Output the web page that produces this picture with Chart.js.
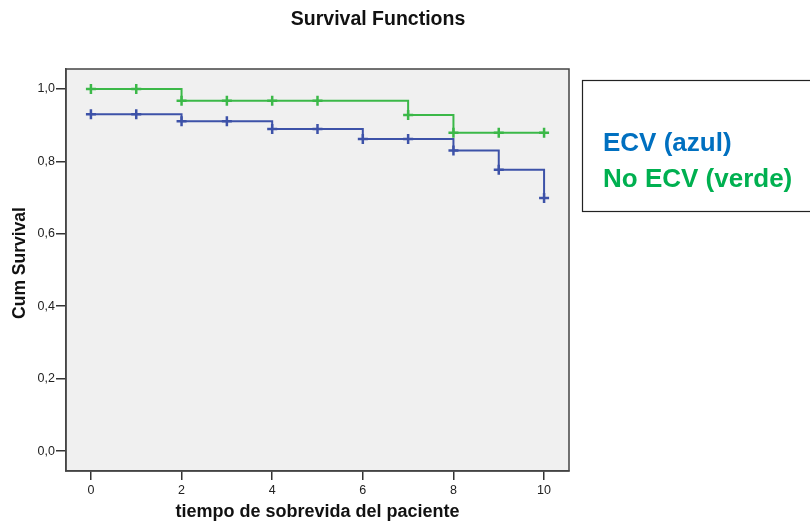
<!DOCTYPE html>
<html><head><meta charset="utf-8">
<script src="https://cdn.jsdelivr.net/npm/chart.js@4/dist/chart.umd.min.js"></script>
<style>html,body{margin:0;padding:0;background:#fff}#wrap{width:810px;height:523px}</style>
</head><body><div id="wrap"><canvas id="c" width="810" height="523"></canvas></div>
<script>
const times = [0, 1, 2, 3, 4, 5, 6, 7, 8, 9, 10];
const ecvSurvival = [0.930, 0.930, 0.911, 0.911, 0.889, 0.889, 0.862, 0.862, 0.830, 0.777, 0.699];
const noEcvSurvival = [1.0, 1.0, 0.967, 0.967, 0.967, 0.967, 0.967, 0.928, 0.879, 0.879, 0.879];
const ecvCensored = [1, 1, 1, 1, 1, 1, 1, 1, 1, 1, 1];
const noEcvCensored = [1, 1, 1, 1, 1, 1, 0, 1, 1, 1, 1];
const xTicks = [0, 2, 4, 6, 8, 10];
const yTicks = [0, 0.2, 0.4, 0.6, 0.8, 1.0];
const legendLabels = ['ECV (azul)', 'No ECV (verde)'];
const titleText = 'Survival Functions';
const xTitle = 'tiempo de sobrevida del paciente';
const yTitle = 'Cum Survival';

const FONT = 'Liberation Sans, Arial, sans-serif';
const blue = '#3D52A8';
const green = '#3BB848';

function pts(vals) { return times.map((t, i) => ({x: t, y: vals[i]})); }

const deco = {
  id: 'deco',
  beforeDraw(chart) {
    const {ctx, chartArea: a} = chart;
    ctx.save();
    ctx.fillStyle = '#F0F0F0';
    ctx.fillRect(a.left, a.top, a.right - a.left, a.bottom - a.top);
    ctx.restore();
  },
  afterDraw(chart) {
    const {ctx, chartArea: a} = chart;
    ctx.save();
    ctx.strokeStyle = '#444';
    ctx.lineWidth = 1.5;
    ctx.strokeRect(a.left, a.top, a.right - a.left, a.bottom - a.top);
    ctx.fillStyle = '#111';
    ctx.textAlign = 'center';
    ctx.textBaseline = 'middle';
    ctx.font = 'bold 19.5px ' + FONT;
    ctx.fillText(titleText, 378, 20);
    ctx.font = 'bold 18px ' + FONT;
    ctx.fillText(xTitle, (a.left + a.right) / 2, 512);
    ctx.save();
    ctx.translate(20, 263);
    ctx.rotate(-Math.PI / 2);
    ctx.font = 'bold 17.5px ' + FONT;
    ctx.fillText(yTitle, 0, 0);
    ctx.restore();
    // legend box
    ctx.fillStyle = '#fff';
    ctx.fillRect(582, 80, 240, 131);
    ctx.strokeStyle = '#222';
    ctx.lineWidth = 1.2;
    ctx.strokeRect(582.5, 80.5, 240, 131);
    ctx.textAlign = 'left';
    ctx.textBaseline = 'alphabetic';
    ctx.font = 'bold 26px ' + FONT;
    ctx.fillStyle = '#0070C0';
    ctx.fillText(legendLabels[0], 603, 151);
    ctx.fillStyle = '#00B050';
    ctx.fillText(legendLabels[1], 603, 187);
    ctx.restore();
  }
};

new Chart(document.getElementById('c'), {
  type: 'line',
  data: {
    datasets: [
      {
        label: legendLabels[0], data: pts(ecvSurvival), stepped: true,
        borderColor: blue, backgroundColor: blue, borderWidth: 2, fill: false,
        pointStyle: 'cross', pointRadius: ecvCensored.map(c => c ? 5 : 0),
        pointBorderWidth: 2.5, pointBorderColor: blue, pointHoverRadius: 0
      },
      {
        label: legendLabels[1], data: pts(noEcvSurvival), stepped: true,
        borderColor: green, backgroundColor: green, borderWidth: 2, fill: false,
        pointStyle: 'cross', pointRadius: noEcvCensored.map(c => c ? 5 : 0),
        pointBorderWidth: 2.5, pointBorderColor: green, pointHoverRadius: 0
      }
    ]
  },
  options: {
    responsive: false, animation: false, events: [],
    layout: {padding: {top: 69, right: 241, left: 0, bottom: 0}},
    plugins: {legend: {display: false}, title: {display: false}, tooltip: {enabled: false}},
    scales: {
      x: {
        type: 'linear', min: -0.55, max: 10.55,
        afterBuildTicks: s => { s.ticks = xTicks.map(v => ({value: v})); },
        afterFit: s => { s.height = 52; },
        ticks: {font: {family: FONT, size: 12.5}, color: '#222', padding: 3, maxRotation: 0},
        grid: {drawOnChartArea: false, drawTicks: true, tickLength: 9, color: '#333', lineWidth: 1.5},
        border: {display: true, color: '#444', width: 1.5}
      },
      y: {
        type: 'linear', min: -0.055, max: 1.055,
        afterBuildTicks: s => { s.ticks = yTicks.map(v => ({value: v})); },
        afterFit: s => { s.width = 66; },
        ticks: {font: {family: FONT, size: 12.5}, color: '#222', padding: 1,
          callback: v => v.toFixed(1).replace('.', ',')},
        grid: {drawOnChartArea: false, drawTicks: true, tickLength: 10, color: '#333', lineWidth: 1.5},
        border: {display: true, color: '#444', width: 1.5}
      }
    }
  },
  plugins: [deco]
});
</script>
</body></html>
